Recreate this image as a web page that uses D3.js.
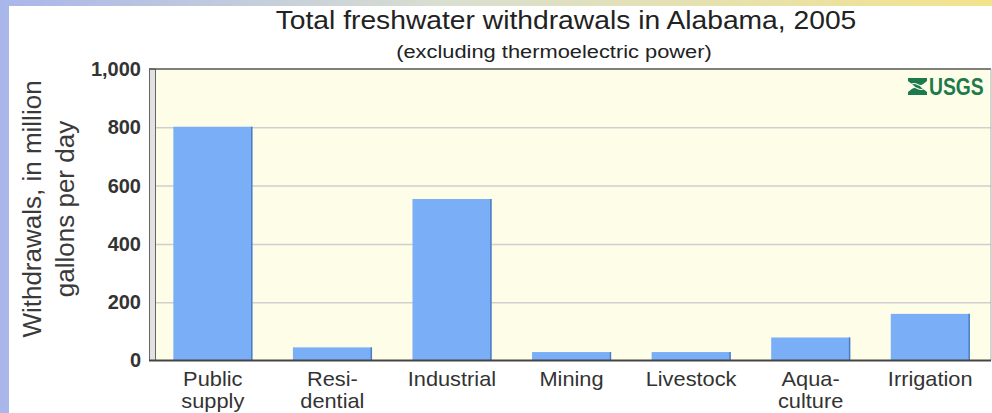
<!DOCTYPE html>
<html>
<head>
<meta charset="utf-8">
<script src="https://cdn.jsdelivr.net/npm/d3@7"></script>
<style>
    body { margin: 0; overflow: hidden; }
    text { font-family: "Liberation Sans", Arial, sans-serif; }
</style>
</head>
<body>
<div id="chart"></div>
<script>
const categories = ["Public supply", "Resi- dential", "Industrial", "Mining", "Livestock", "Aqua- culture", "Irrigation"];
const withdrawals = [802, 45, 554, 29, 29, 79, 160];
const yTicks = [0, 200, 400, 600, 800, 1000];
const titleText = "Total freshwater withdrawals in Alabama, 2005";
const subtitleText = "(excluding thermoelectric power)";
const yTitleLines = ["Withdrawals, in million", "gallons per day"];

const width = 992;
const height = 413;
const plot = { left: 156, right: 991, top: 69, bottom: 360.5 };

const svg = d3.select("#chart")
    .append("svg")
    .attr("width", width)
    .attr("height", height);

// slide background behind the white panel
const defs = svg.append("defs");
const bg = defs.append("linearGradient").attr("id", "bg");
bg.append("stop").attr("offset", "0%").attr("stop-color", "#a9b6ea");
bg.append("stop").attr("offset", "45%").attr("stop-color", "#d9dfd0");
bg.append("stop").attr("offset", "100%").attr("stop-color", "#f3e38c");

svg.append("rect").attr("width", width).attr("height", height).attr("fill", "url(#bg)");
svg.append("rect")
    .attr("x", 9).attr("y", 6)
    .attr("width", width - 9).attr("height", height - 6)
    .attr("fill", "#ffffff");

const x = d3.scaleBand()
    .domain(categories)
    .range([153, 990])
    .paddingInner(0.34)
    .paddingOuter(0.17);

const y = d3.scaleLinear()
    .domain([0, 1000])
    .range([plot.bottom, plot.top]);

// plot background
svg.append("rect")
    .attr("x", plot.left).attr("y", plot.top)
    .attr("width", plot.right - plot.left).attr("height", plot.bottom - plot.top)
    .attr("fill", "#fefee8");

// left wall
svg.append("rect")
    .attr("x", 149.5).attr("y", plot.top)
    .attr("width", 6).attr("height", plot.bottom - plot.top)
    .attr("fill", "#e2e2e2")
    .attr("stroke", "#666")
    .attr("stroke-width", 1);

// grid
svg.append("g")
    .attr("transform", `translate(${plot.left},0)`)
    .call(d3.axisLeft(y).tickValues(yTicks.filter(d => d > 0 && d < 1000)).tickSize(-(plot.right - plot.left)).tickFormat(""))
    .call(g => g.select(".domain").remove())
    .call(g => g.selectAll("line").attr("stroke", "#cfcfcf").attr("stroke-width", 1.5));

// bars
svg.append("g")
    .selectAll("rect")
    .data(withdrawals)
    .enter()
    .append("rect")
    .attr("x", (d, i) => x(categories[i]))
    .attr("y", d => y(d))
    .attr("width", x.bandwidth())
    .attr("height", d => plot.bottom - y(d))
    .attr("fill", "#7aaff8");

svg.append("g")
    .selectAll("line")
    .data(withdrawals)
    .enter()
    .append("line")
    .attr("x1", (d, i) => x(categories[i]) + x.bandwidth() - 0.5)
    .attr("x2", (d, i) => x(categories[i]) + x.bandwidth() - 0.5)
    .attr("y1", d => y(d))
    .attr("y2", plot.bottom)
    .attr("stroke", "#4c7dc4")
    .attr("stroke-width", 1.5);

// frame
svg.append("line")
    .attr("x1", 149).attr("x2", plot.right)
    .attr("y1", plot.top).attr("y2", plot.top)
    .attr("stroke", "#555").attr("stroke-width", 1.5);
svg.append("line")
    .attr("x1", plot.right).attr("x2", plot.right)
    .attr("y1", plot.top).attr("y2", plot.bottom)
    .attr("stroke", "#aaa").attr("stroke-width", 1);
svg.append("line")
    .attr("x1", 149).attr("x2", plot.right)
    .attr("y1", plot.bottom).attr("y2", plot.bottom)
    .attr("stroke", "#444").attr("stroke-width", 2);

// y tick labels
svg.append("g")
    .attr("transform", "translate(141,0)")
    .call(d3.axisLeft(y).tickValues(yTicks).tickSize(0).tickPadding(0).tickFormat(d3.format(",")))
    .call(g => g.select(".domain").remove())
    .call(g => g.selectAll("text")
        .attr("font-family", "Liberation Sans, Arial, sans-serif")
        .attr("font-size", 20)
        .attr("font-weight", "bold")
        .attr("fill", "#333"));

// x labels (slightly wide lettering, as in the source image)
const xLabels = svg.append("g")
    .selectAll("text")
    .data(categories)
    .enter()
    .append("text")
    .attr("transform", d => `translate(${x(d) + x.bandwidth() / 2},386) scale(1.09,1)`)
    .attr("text-anchor", "middle")
    .attr("font-size", 20)
    .attr("fill", "#333");

xLabels.each(function(d) {
    const t = d3.select(this);
    d.split(" ").forEach((p, i) => {
        t.append("tspan")
            .attr("x", 0)
            .attr("dy", i === 0 ? 0 : 22)
            .text(p);
    });
});

// titles
svg.append("text")
    .attr("transform", "translate(566,29) scale(1.13,1)")
    .attr("text-anchor", "middle")
    .attr("font-size", 25)
    .attr("fill", "#222")
    .text(titleText);

svg.append("text")
    .attr("transform", "translate(554,58) scale(1.15,1)")
    .attr("text-anchor", "middle")
    .attr("font-size", 19)
    .attr("fill", "#222")
    .text(subtitleText);

svg.append("g")
    .attr("transform", "translate(41,209) rotate(-90)")
    .selectAll("text")
    .data(yTitleLines)
    .enter()
    .append("text")
    .attr("x", 0)
    .attr("y", (d, i) => i * 33)
    .attr("text-anchor", "middle")
    .attr("font-size", 26)
    .attr("fill", "#3a3a3a")
    .text(d => d);

// USGS mark
const logo = svg.append("g").attr("transform", "translate(908,78)").attr("fill", "#1c7a4c");
logo.append("path")
    .attr("d", "M0,0 H19 V3 L12,8.5 L19,14 V17 H0 V14 L7,8.5 L0,3 Z");
logo.append("path")
    .attr("d", "M3,6.5 Q6,4.5 9.5,6.5 T16,6.5 M3,10.5 Q6,8.5 9.5,10.5 T16,10.5")
    .attr("stroke", "#fefee8").attr("stroke-width", 1.2).attr("fill", "none");
logo.append("text")
    .attr("transform", "translate(21,17) scale(0.84,1)")
    .attr("font-family", "DejaVu Sans Condensed, Liberation Sans Narrow, sans-serif")
    .attr("font-stretch", "condensed")
    .attr("font-weight", "bold")
    .attr("font-size", 23)
    .text("USGS");
</script>
</body>
</html>
